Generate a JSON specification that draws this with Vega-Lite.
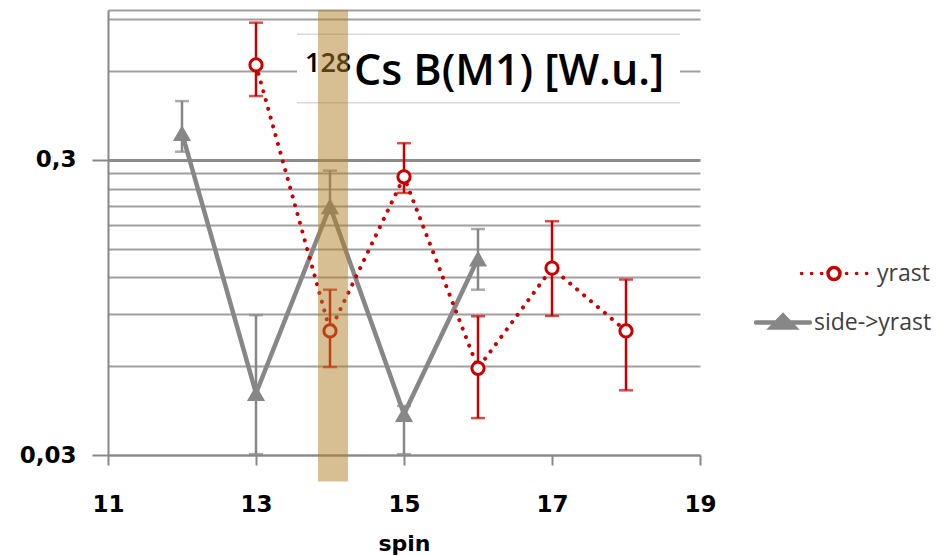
{
  "$schema": "https://vega.github.io/schema/vega-lite/v6.json",
  "width": 592,
  "height": 445,
  "autosize": {"type": "none"},
  "padding": {"left": 108, "top": 10, "right": 250, "bottom": 101},
  "background": "white",
  "config": {"view": {"stroke": null}},
  "datasets": {
    "measured": [
      {"series": "yrast", "spin": 13, "value": 0.63, "lo": 0.494, "hi": 0.876},
      {"series": "yrast", "spin": 14, "value": 0.079, "lo": 0.0596, "hi": 0.109},
      {"series": "yrast", "spin": 15, "value": 0.263, "lo": 0.232, "hi": 0.342},
      {"series": "yrast", "spin": 16, "value": 0.059, "lo": 0.040, "hi": 0.0886},
      {"series": "yrast", "spin": 17, "value": 0.129, "lo": 0.0888, "hi": 0.186},
      {"series": "yrast", "spin": 18, "value": 0.079, "lo": 0.0497, "hi": 0.118},
      {"series": "side->yrast", "spin": 12, "value": 0.37, "lo": 0.32, "hi": 0.475},
      {"series": "side->yrast", "spin": 13, "value": 0.0486, "lo": 0.0302, "hi": 0.0894},
      {"series": "side->yrast", "spin": 14, "value": 0.209, "lo": 0.2, "hi": 0.276},
      {"series": "side->yrast", "spin": 15, "value": 0.0413, "lo": 0.0302, "hi": 0.044},
      {"series": "side->yrast", "spin": 16, "value": 0.139, "lo": 0.109, "hi": 0.175}
    ],
    "annot": [
      {"item": "box", "spin": 13.554, "spin_end": 18.73, "value": 0.469, "value_end": 0.80},
      {"item": "band", "spin": 13.838, "spin_end": 14.243, "value": 0.0244, "value_end": 0.967},
      {"item": "iso", "spin": 13.662, "value": 0.596, "label": "128"},
      {"item": "main", "spin": 14.324, "value": 0.539, "label": "Cs B(M1) [W.u.]"}
    ]
  },
  "encoding": {
    "x": {
      "field": "spin",
      "type": "quantitative",
      "scale": {"domain": [11, 19], "nice": false, "zero": false},
      "axis": {
        "values": [11, 13, 15, 17, 19],
        "grid": false,
        "domainColor": "#888888",
        "domainWidth": 2,
        "tickColor": "#888888",
        "tickWidth": 2,
        "tickSize": 10,
        "labelFont": "DejaVu Sans",
        "labelFontWeight": "bold",
        "labelFontSize": 23,
        "labelColor": "black",
        "labelPadding": 28,
        "labelFlush": false,
        "title": "spin",
        "titleFont": "DejaVu Sans",
        "titleFontWeight": "bold",
        "titleFontSize": 22,
        "titleColor": "black",
        "titlePadding": 17
      }
    },
    "y": {
      "field": "value",
      "type": "quantitative",
      "scale": {"type": "log", "domain": [0.03, 0.967], "nice": false},
      "axis": {
        "title": null,
        "values": [0.03, 0.06, 0.09, 0.12, 0.15, 0.18, 0.21, 0.24, 0.27, 0.3, 0.6, 0.9, 0.967],
        "grid": true,
        "gridColor": {"condition": {"test": "datum.value == 0.3", "value": "#8c8c8c"}, "value": "#a0a0a0"},
        "gridWidth": {"condition": {"test": "datum.value == 0.3", "value": 3}, "value": 2},
        "tickOpacity": {"condition": {"test": "datum.value == 0.3 || datum.value == 0.03", "value": 1}, "value": 0},
        "tickSize": 16,
        "tickWidth": 2,
        "tickColor": "#888888",
        "domainColor": "#888888",
        "domainWidth": 2,
        "labelExpr": "datum.value == 0.3 ? '0,3' : (datum.value == 0.03 ? '0,03' : '')",
        "labelPadding": 16,
        "labelOverlap": false,
        "labelFlush": false,
        "labelFont": "DejaVu Sans",
        "labelFontWeight": "bold",
        "labelFontSize": 23,
        "labelColor": "black"
      }
    }
  },
  "layer": [
    {
      "data": {"name": "annot"},
      "transform": [{"filter": "datum.item == 'box'"}],
      "mark": {"type": "rect", "fill": "white"},
      "encoding": {"x2": {"field": "spin_end"}, "y2": {"field": "value_end"}}
    },
    {
      "data": {"name": "annot"},
      "transform": [{"filter": "datum.item == 'box'"}],
      "mark": {"type": "rule", "color": "#d9d9d9", "strokeWidth": 1.5},
      "encoding": {"x2": {"field": "spin_end"}}
    },
    {
      "data": {"name": "annot"},
      "transform": [{"filter": "datum.item == 'box'"}],
      "mark": {"type": "rule", "color": "#d9d9d9", "strokeWidth": 1.5},
      "encoding": {"x2": {"field": "spin_end"}, "y": {"field": "value_end", "type": "quantitative", "title": null}}
    },
    {
      "data": {"name": "measured"},
      "encoding": {
        "color": {
          "field": "series",
          "type": "nominal",
          "scale": {"domain": ["yrast", "side->yrast"], "range": ["#c80000", "#878787"]},
          "legend": {
            "title": null,
            "orient": "none",
            "legendX": 650,
            "legendY": 252,
            "padding": 0,
            "rowPadding": 19,
            "symbolSize": 2500,
            "symbolStrokeWidth": 3.5,
            "labelFont": "Open Sans",
            "labelFontSize": 23,
            "labelColor": "#404040",
            "labelOffset": 33,
            "encode": {
              "symbols": {
                "update": {
                  "shape": {"signal": "datum.value == 'yrast' ? 'M-1.3,0h0.01M-0.9,0h0.01M-0.5,0h0.01M0.5,0h0.01M0.9,0h0.01M1.3,0h0.01M0.24,0A0.24,0.24,0,1,1,-0.24,0A0.24,0.24,0,1,1,0.24,0ZM0.24,0A0.24,0.24,0,1,0,-0.24,0A0.24,0.24,0,1,0,0.24,0Z' : 'M-1.08,0H1.08M0,-0.28L0.46,0.2L-0.46,0.2Z'"},
                  "stroke": {"signal": "datum.value == 'yrast' ? '#c80000' : '#878787'"},
                  "fill": {"signal": "datum.value == 'yrast' ? 'white' : '#878787'"},
                  "strokeWidth": {"signal": "datum.value == 'yrast' ? 3.5 : 4.5"},
                  "strokeCap": {"value": "round"},
                  "x": {"signal": "datum.value == 'yrast' ? 76 : 25"},
                  "size": {"value": 2500},
                  "opacity": {"value": 1},
                  "fillOpacity": {"value": 1},
                  "strokeOpacity": {"value": 1}
                }
              },
              "labels": {
                "update": {"dx": {"signal": "datum.value == 'yrast' ? 63 : 0"}}
              }
            }
          }
        }
      },
      "layer": [
        {
          "mark": {"type": "errorbar", "ticks": {"size": 14}, "thickness": 2.5},
          "encoding": {
            "y": {"field": "lo", "type": "quantitative", "title": null},
            "y2": {"field": "hi"}
          }
        },
        {
          "transform": [{"filter": "datum.series == 'side->yrast'"}],
          "mark": {"type": "line", "strokeWidth": 4.5}
        },
        {
          "transform": [{"filter": "datum.series == 'yrast'"}],
          "mark": {"type": "line", "strokeWidth": 4, "strokeDash": [0.1, 9], "strokeCap": "round"}
        },
        {
          "transform": [{"filter": "datum.series == 'side->yrast'"}],
          "mark": {"type": "point", "shape": "triangle-up", "filled": true, "size": 330, "opacity": 1}
        },
        {
          "transform": [{"filter": "datum.series == 'yrast'"}],
          "mark": {"type": "point", "shape": "circle", "filled": false, "fill": "white", "size": 150, "strokeWidth": 3, "opacity": 1}
        }
      ]
    },
    {
      "data": {"name": "annot"},
      "transform": [{"filter": "datum.item == 'iso'"}],
      "mark": {"type": "text", "align": "left", "baseline": "alphabetic", "font": "Open Sans", "fontSize": 27, "fontWeight": 600, "color": "black"},
      "encoding": {"text": {"field": "label"}}
    },
    {
      "data": {"name": "annot"},
      "transform": [{"filter": "datum.item == 'main'"}],
      "mark": {"type": "text", "align": "left", "baseline": "alphabetic", "font": "Open Sans", "fontSize": 43, "fontWeight": 600, "color": "black"},
      "encoding": {"text": {"field": "label"}}
    },
    {
      "data": {"name": "annot"},
      "transform": [{"filter": "datum.item == 'band'"}],
      "mark": {"type": "rect", "fill": "#b07f28", "opacity": 0.5},
      "encoding": {"x2": {"field": "spin_end"}, "y2": {"field": "value_end"}}
    }
  ]
}
